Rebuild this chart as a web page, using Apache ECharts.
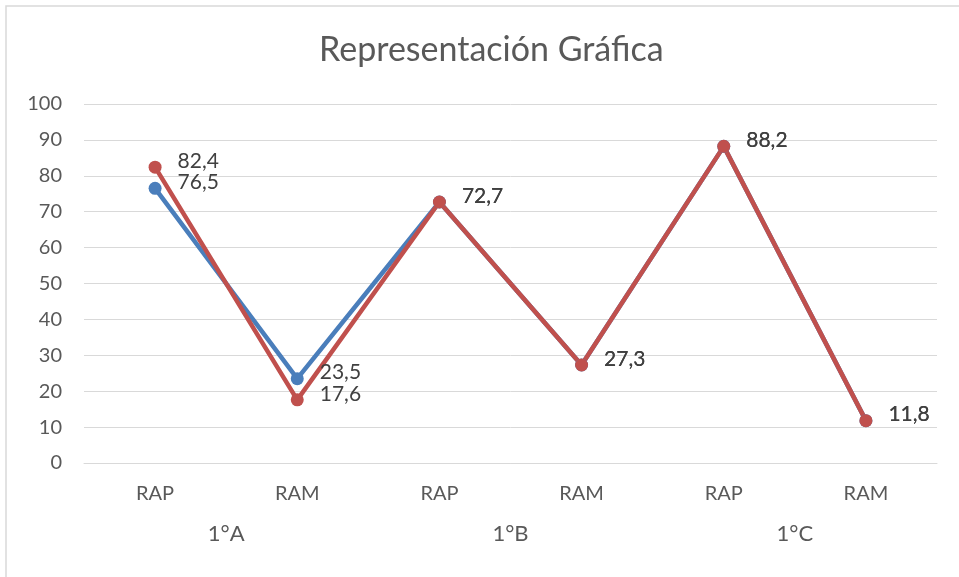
<!DOCTYPE html>
<html>
<head>
<meta charset="utf-8">
<script src="https://cdn.jsdelivr.net/npm/echarts@6/dist/echarts.min.js"></script>
<style>
html, body { margin: 0; padding: 0; background: #fff; }
#chart { width: 959px; height: 577px; }
</style>
</head>
<body>
<div id="chart"></div>
<script>
var categories = ['RAP', 'RAM', 'RAP', 'RAM', 'RAP', 'RAM'];
var groups = ['1°A', '1°B', '1°C'];
var serieAzul = [76.5, 23.5, 72.7, 27.3, 88.2, 11.8];
var serieRoja = [82.4, 17.6, 72.7, 27.3, 88.2, 11.8];

var fontName = 'Lato';
var textGray = '#595959';

function etiqueta(p) {
	return String(p.value).replace('.', ',');
}

var myChart = echarts.init(document.getElementById('chart'));
var option = {
	backgroundColor: '#fff',
	animation: false,
	title: {
		text: 'Representación Gráfica',
		left: 314,
		top: 28,
		textStyle: { fontFamily: fontName, fontSize: 34, fontWeight: 'normal', color: textGray }
	},
	graphic: [{
		type: 'rect',
		shape: { x: 6, y: 6, width: 1000, height: 1000 },
		style: { fill: 'none', stroke: '#d9d9d9', lineWidth: 1.5 },
		silent: true
	}],
	grid: { left: 84, right: 22, top: 104, bottom: 114 },
	xAxis: [{
		type: 'category',
		data: categories,
		boundaryGap: true,
		axisLine: { show: true, lineStyle: { color: '#d9d9d9' } },
		axisTick: { show: false },
		axisLabel: { margin: 21, fontFamily: fontName, fontSize: 20, color: textGray }
	}, {
		type: 'category',
		data: groups,
		position: 'bottom',
		boundaryGap: true,
		axisLine: { show: false },
		axisTick: { show: false },
		axisLabel: { margin: 60, fontFamily: fontName, fontSize: 22, color: textGray }
	}],
	yAxis: {
		type: 'value',
		min: 0,
		max: 100,
		interval: 10,
		axisLine: { show: false },
		axisTick: { show: false },
		splitLine: { lineStyle: { color: '#d9d9d9', width: 1 } },
		axisLabel: { margin: 22, fontFamily: fontName, fontSize: 20, color: textGray }
	},
	series: [{
		name: 'Azul',
		type: 'line',
		data: serieAzul,
		symbol: 'circle',
		symbolSize: 13,
		itemStyle: { color: '#4a7ebb' },
		lineStyle: { width: 4.5, color: '#4a7ebb' },
		label: {
			show: true, position: 'right', distance: 16, offset: [0, -6],
			formatter: etiqueta,
			fontFamily: fontName, fontSize: 21, color: '#404040'
		}
	}, {
		name: 'Roja',
		type: 'line',
		data: serieRoja,
		symbol: 'circle',
		symbolSize: 13,
		itemStyle: { color: '#c0504d' },
		lineStyle: { width: 4.5, color: '#c0504d' },
		label: {
			show: true, position: 'right', distance: 16, offset: [0, -6],
			formatter: etiqueta,
			fontFamily: fontName, fontSize: 21, color: '#404040'
		}
	}]
};
myChart.setOption(option);
</script>
</body>
</html>
